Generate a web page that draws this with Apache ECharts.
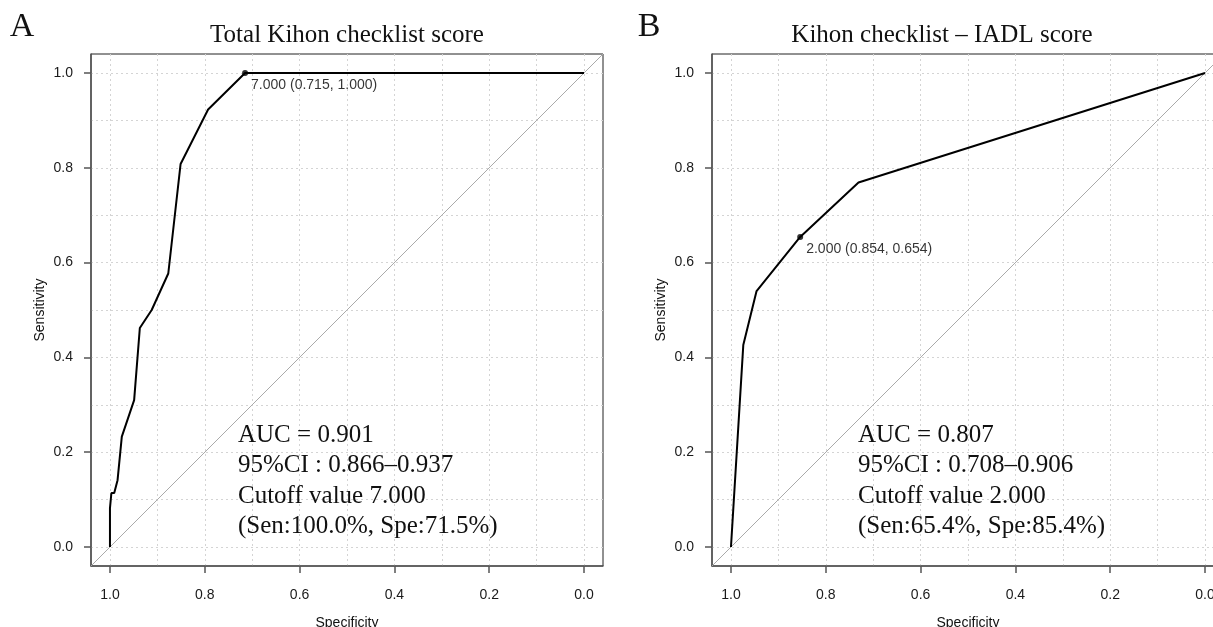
<!DOCTYPE html>
<html>
<head>
<meta charset="utf-8">
<script src="https://cdn.jsdelivr.net/npm/echarts@6/dist/echarts.min.js"></script>
<style>
  html, body { margin: 0; padding: 0; background: #fff; }
  #chart { width: 1213px; height: 627px; }
</style>
</head>
<body>
<div id="chart"></div>
<script>
// ROC curve A - total score (specificity, sensitivity)
const specA = [1.000, 1.000, 0.997, 0.991, 0.984, 0.975, 0.949, 0.937, 0.912, 0.877, 0.851, 0.793, 0.715, 0.000];
const sensA = [0.000, 0.082, 0.114, 0.114, 0.141, 0.233, 0.310, 0.462, 0.500, 0.577, 0.808, 0.923, 1.000, 1.000];
// ROC curve B - IADL score
const specB = [1.000, 0.974, 0.946, 0.854, 0.731, 0.000];
const sensB = [0.000, 0.426, 0.540, 0.654, 0.769, 1.000];

// best cutoff points
const cutA = [0.715, 1.000];
const cutB = [0.854, 0.654];
const cutLabelA = '7.000 (0.715, 1.000)';
const cutLabelB = '2.000 (0.854, 0.654)';

const tickVals = [0, 0.2, 0.4, 0.6, 0.8, 1.0];
const gridVals = [0, 0.1, 0.2, 0.3, 0.4, 0.5, 0.6, 0.7, 0.8, 0.9, 1.0];

const titles = ['Total Kihon checklist score', 'Kihon checklist \u2013 IADL score'];
const panelTags = ['A', 'B'];
const statsA = ['AUC = 0.901', '95%CI : 0.866\u20130.937', 'Cutoff value 7.000', '(Sen:100.0%, Spe:71.5%)'];
const statsB = ['AUC = 0.807', '95%CI : 0.708\u20130.906', 'Cutoff value 2.000', '(Sen:65.4%, Spe:85.4%)'];

const AX_MIN = -0.04, AX_MAX = 1.04;
const SANS = '"Liberation Sans", Arial, sans-serif';
const SERIF = '"Liberation Serif", "Times New Roman", serif';

const chart = echarts.init(document.getElementById('chart'));

const makeX = (i) => ({
  gridIndex: i,
  type: 'value',
  inverse: true,
  min: AX_MIN,
  max: AX_MAX,
  name: 'Specificity',
  nameLocation: 'middle',
  nameGap: 50,
  nameTextStyle: { fontFamily: SANS, fontSize: 14, color: '#111' },
  axisLine: { show: true, onZero: false, lineStyle: { color: '#555', width: 1.5 } },
  axisTick: { show: true, customValues: tickVals, length: 7, lineStyle: { color: '#555', width: 1.5 } },
  axisLabel: { customValues: tickVals, margin: 22, fontFamily: SANS, fontSize: 14, color: '#1a1a1a',
    formatter: v => v.toFixed(1) },
  splitLine: { show: false }
});

const makeY = (i) => ({
  gridIndex: i,
  type: 'value',
  min: AX_MIN,
  max: AX_MAX,
  name: 'Sensitivity',
  nameLocation: 'middle',
  nameGap: 44,
  nameTextStyle: { fontFamily: SANS, fontSize: 14, color: '#111' },
  axisLine: { show: true, onZero: false, lineStyle: { color: '#555', width: 1.5 } },
  axisTick: { show: true, customValues: tickVals, length: 7, lineStyle: { color: '#555', width: 1.5 } },
  axisLabel: { customValues: tickVals, margin: 18, fontFamily: SANS, fontSize: 14, color: '#1a1a1a',
    formatter: v => v.toFixed(1) },
  splitLine: { show: false }
});

// chance line, across the whole plotting box, with dotted grid as markLines
const makeDiag = (i) => ({
  type: 'line',
  xAxisIndex: i,
  yAxisIndex: i,
  data: [[AX_MAX, 1 - AX_MAX], [AX_MIN, 1 - AX_MIN]],
  symbol: 'none',
  silent: true,
  z: 1,
  lineStyle: { color: '#aaa', width: 1 },
  markLine: {
    z: 0,
    silent: true,
    symbol: 'none',
    label: { show: false },
    lineStyle: { type: [2, 3], color: '#d4d4d4', width: 1 },
    data: gridVals.map(v => ({ xAxis: v })).concat(gridVals.map(v => ({ yAxis: v })))
  }
});

const makeCurve = (i, spec, sens) => ({
  type: 'line',
  xAxisIndex: i,
  yAxisIndex: i,
  data: spec.map((s, k) => [s, sens[k]]),
  symbol: 'none',
  z: 6,
  lineStyle: { color: '#000', width: 2 }
});

const makeCut = (i, pt, text) => ({
  type: 'scatter',
  xAxisIndex: i,
  yAxisIndex: i,
  data: [pt],
  symbolSize: 6,
  z: 7,
  itemStyle: { color: '#000' },
  label: {
    show: true,
    formatter: text,
    position: [9, 15],
    align: 'left',
    verticalAlign: 'middle',
    fontFamily: SANS,
    fontSize: 14,
    color: '#000'
  }
});

const option = {
  animation: false,
  backgroundColor: '#fff',
  grid: [
    { left: 91, top: 54, width: 512, height: 512, outerBoundsMode: 'none', containLabel: false,
      show: true, borderColor: '#222', borderWidth: 1, backgroundColor: 'transparent' },
    { left: 712, top: 54, width: 512, height: 512, outerBoundsMode: 'none', containLabel: false,
      show: true, borderColor: '#222', borderWidth: 1, backgroundColor: 'transparent' }
  ],
  xAxis: [makeX(0), makeX(1)],
  yAxis: [makeY(0), makeY(1)],
  series: [
    makeDiag(0), makeCurve(0, specA, sensA), makeCut(0, cutA, cutLabelA),
    makeDiag(1), makeCurve(1, specB, sensB), makeCut(1, cutB, cutLabelB)
  ],
  graphic: [
    { type: 'text', x: 22, y: 27, style: { text: panelTags[0], font: '34px ' + SERIF, fill: '#111', align: 'center', verticalAlign: 'middle' } },
    { type: 'text', x: 649, y: 27, style: { text: panelTags[1], font: '34px ' + SERIF, fill: '#111', align: 'center', verticalAlign: 'middle' } },
    { type: 'text', x: 347, y: 35, style: { text: titles[0], font: '25px ' + SERIF, fill: '#111', align: 'center', verticalAlign: 'middle' } },
    { type: 'text', x: 942, y: 35, style: { text: titles[1], font: '25px ' + SERIF, fill: '#111', align: 'center', verticalAlign: 'middle' } },
    { type: 'text', x: 238, y: 420, z: 10, style: { text: statsA.join('\n'), font: '25px ' + SERIF, lineHeight: 30.5, fill: '#111' } },
    { type: 'text', x: 858, y: 420, z: 10, style: { text: statsB.join('\n'), font: '25px ' + SERIF, lineHeight: 30.5, fill: '#111' } }
  ]
};

chart.setOption(option);
</script>
</body>
</html>
